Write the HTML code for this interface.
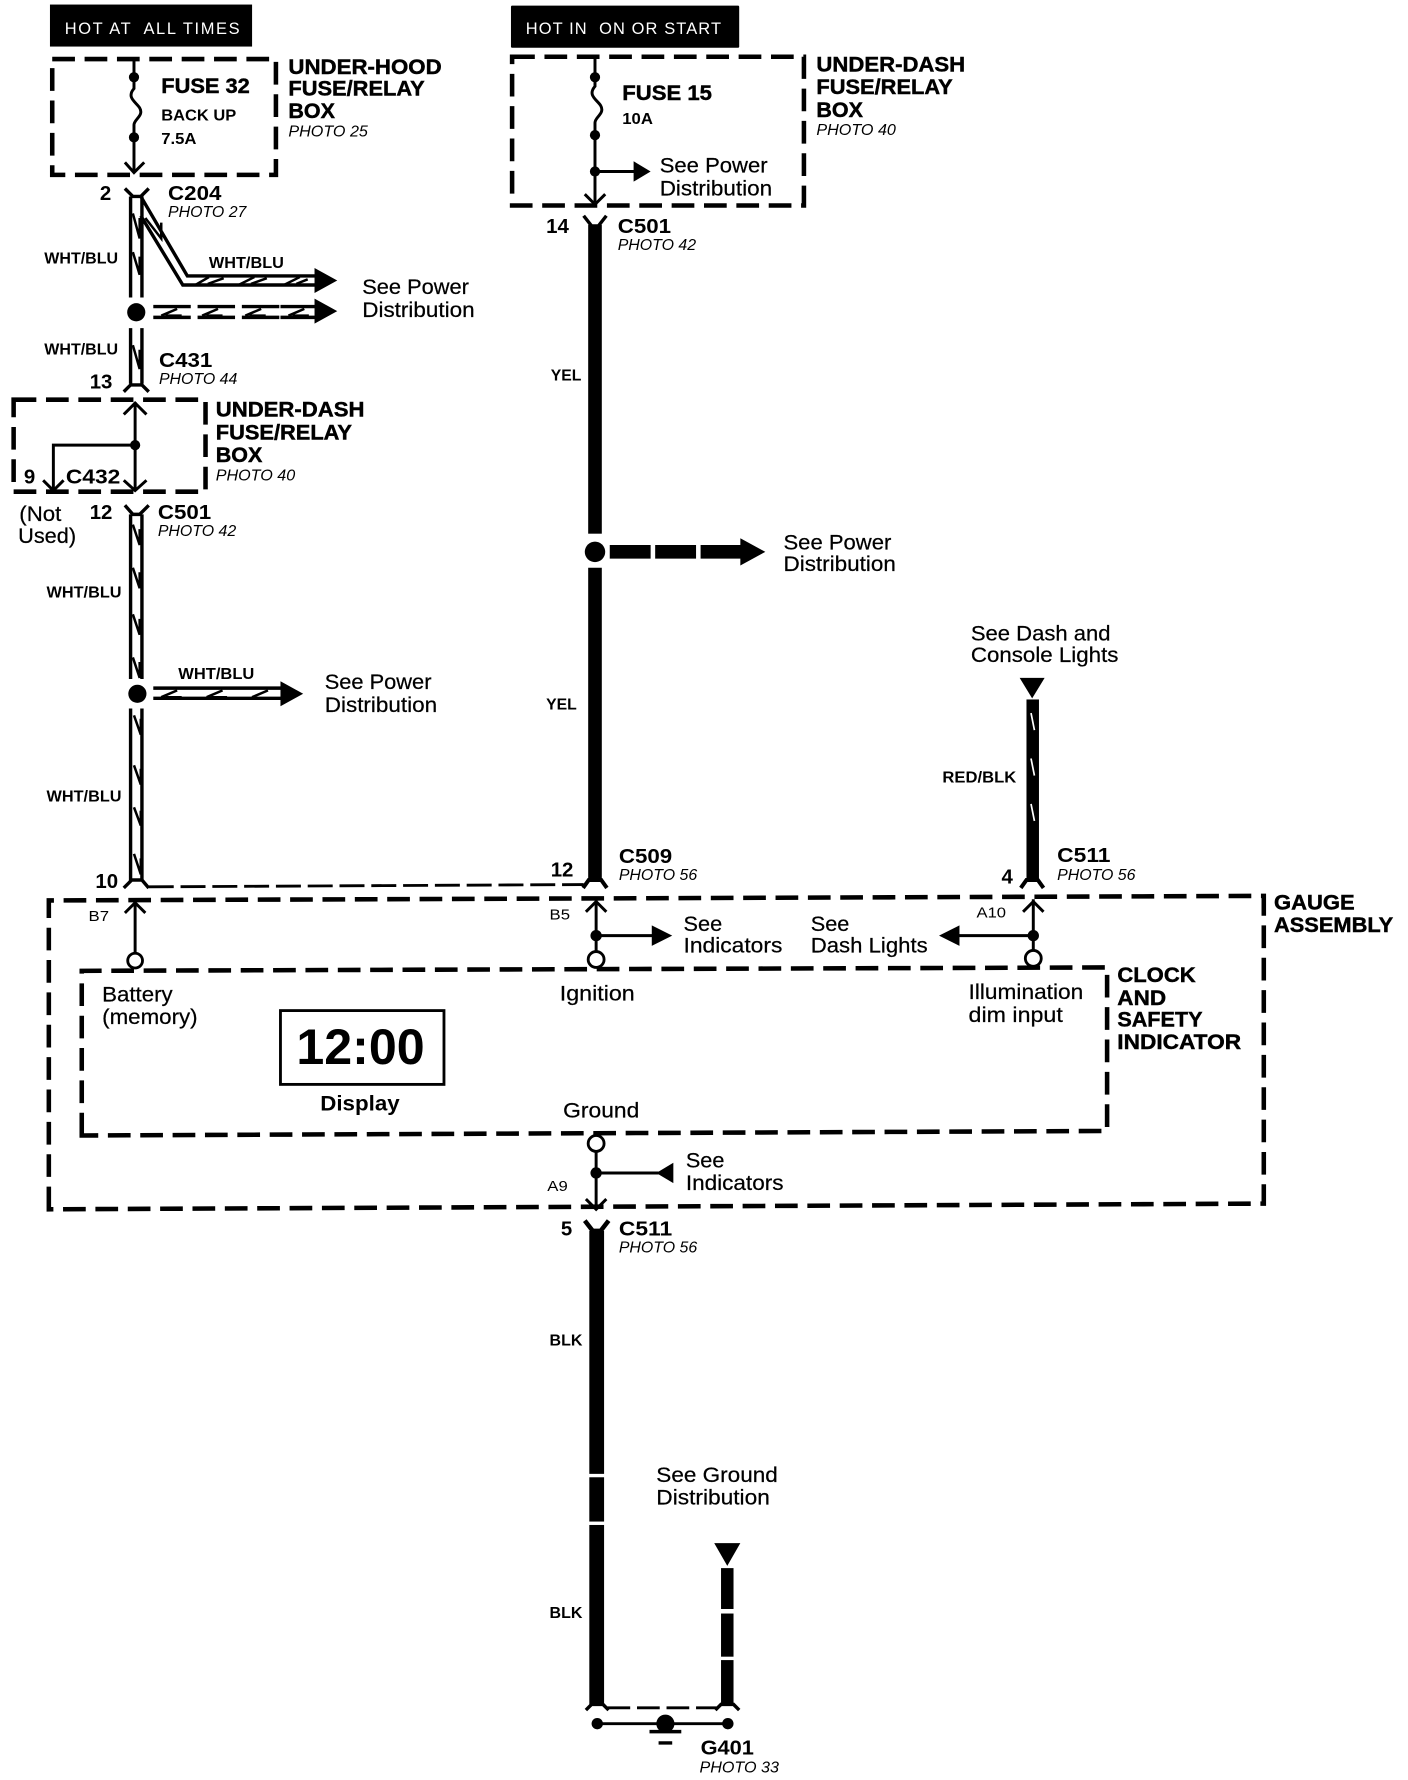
<!DOCTYPE html>
<html><head><meta charset="utf-8"><style>
html,body{margin:0;padding:0;background:#fff}
svg{display:block}
text{font-family:"Liberation Sans",Arial,sans-serif;fill:#000}
.b{font-weight:bold}
.h{font-weight:bold;font-size:19px;stroke:#000;stroke-width:.4}
.w{font-weight:bold;font-size:13.5px}
.n{font-size:19px;stroke:#000;stroke-width:.2}
.p{font-style:italic;font-size:14px}
.c{font-weight:bold;font-size:18px}
.d{fill:none;stroke:#000;stroke-width:4;stroke-dasharray:20 8.5}
.l{fill:none;stroke:#000;stroke-width:2.6}
.t{fill:none;stroke:#000;stroke-width:3}
.z{fill:none;stroke:#000;stroke-width:2.2}
</style></head><body>
<svg xmlns="http://www.w3.org/2000/svg" width="1408" height="1780" viewBox="0 0 1240 1567.6">
<rect width="1240" height="1568" fill="#fff"/>
<!-- headers -->
<rect x="44" y="4" width="178" height="37" fill="#000"/>
<text x="57" y="30" style="fill:#fff;font-size:14.5px;white-space:pre" textLength="154" lengthAdjust="spacing">HOT AT  ALL TIMES</text>
<rect x="450" y="5" width="201" height="37" rx="1" fill="#000"/>
<text x="463" y="30" style="fill:#fff;font-size:14.5px;white-space:pre" textLength="172" lengthAdjust="spacing">HOT IN  ON OR START</text>

<!-- box 1 -->
<rect class="d" x="46" y="52" width="197" height="102"/>
<path class="l" d="M118 52V78c-7 8 2 12 5 17 4 7-5 10-5 15V150M110 143l8 9 9-9"/>
<circle cx="118" cy="68" r="4.500"/><circle cx="118" cy="121" r="4.500"/>
<text class="h" style="font-size:19px" x="142" y="82" textLength="78" lengthAdjust="spacingAndGlyphs">FUSE 32</text>
<text class="b" style="font-size:14px" x="142" y="106" textLength="66" lengthAdjust="spacingAndGlyphs">BACK UP</text>
<text class="b" style="font-size:14px" x="142" y="127" textLength="31" lengthAdjust="spacingAndGlyphs">7.5A</text>
<text class="h" x="254" y="65" textLength="135" lengthAdjust="spacingAndGlyphs">UNDER-HOOD</text>
<text class="h" x="254" y="84" textLength="120" lengthAdjust="spacingAndGlyphs">FUSE/RELAY</text>
<text class="h" x="254" y="104" textLength="41" lengthAdjust="spacingAndGlyphs">BOX</text>
<text class="p" x="254" y="120" textLength="70" lengthAdjust="spacingAndGlyphs">PHOTO 25</text>

<!-- C204 -->
<text class="c" x="88" y="176">2</text>
<text class="c" x="148" y="176" textLength="47" lengthAdjust="spacingAndGlyphs">C204</text>
<text class="p" x="148" y="191" textLength="69" lengthAdjust="spacingAndGlyphs">PHOTO 27</text>
<path class="t" d="M110 166l7 7h7l7-7"/>
<path class="t" d="M115 173V262M125 173V262M124 173L165 243H280M124 190L161 251H280"/>
<path class="z" d="M117 188l6 22v-18M117 222l6 20v-16M128 192l14 18v-14M172 251l12-7M183 250l14-5M210 251l14-7M221 250l14-5M250 251l14-7M261 250l10-4"/>
<path d="M277 236l20 11-20 11z"/>
<text class="w" x="39" y="232" textLength="65" lengthAdjust="spacingAndGlyphs">WHT/BLU</text>
<text class="w" x="184" y="236" textLength="66" lengthAdjust="spacingAndGlyphs">WHT/BLU</text>
<text class="n" x="319" y="259" textLength="94" lengthAdjust="spacingAndGlyphs">See Power</text>
<text class="n" x="319" y="279" textLength="99" lengthAdjust="spacingAndGlyphs">Distribution</text>
<circle cx="120" cy="275" r="8"/>
<path d="M135 270H247M135 279.500H247" fill="none" stroke="#000" stroke-width="3" stroke-dasharray="33 6"/>
<path d="M247 270h32M247 279.500h32" class="t"/>
<path class="z" d="M142 278l14-6M146 278h14M178 278l14-6M182 278h14M216 278l14-6M220 278h14M254 278l14-6M258 278h14"/>
<path d="M277 263l20 11-20 11z"/>

<path class="t" d="M115 289V338M125 289V338"/>
<path class="z" d="M117 304l6 21v-17"/>
<text class="w" x="39" y="312" textLength="65" lengthAdjust="spacingAndGlyphs">WHT/BLU</text>
<text class="c" x="140" y="323" textLength="47" lengthAdjust="spacingAndGlyphs">C431</text>
<text class="p" x="140" y="338" textLength="69" lengthAdjust="spacingAndGlyphs">PHOTO 44</text>
<text class="c" x="79" y="342">13</text>
<path class="t" d="M109 345l6-6h10l6 6"/>

<!-- box 2 -->
<rect class="d" x="12" y="352" width="169" height="81"/>
<path class="l" d="M119 354V431M109 365l10-10 10 10M119 392H47V431M38 423l9 9 9-9M109 423l10 9 10-9"/>
<circle cx="119" cy="392" r="4.500"/>
<text class="c" x="21" y="426">9</text>
<text class="c" x="58" y="426" textLength="48" lengthAdjust="spacingAndGlyphs">C432</text>
<text class="h" x="190" y="367" textLength="131" lengthAdjust="spacingAndGlyphs">UNDER-DASH</text>
<text class="h" x="190" y="387" textLength="120" lengthAdjust="spacingAndGlyphs">FUSE/RELAY</text>
<text class="h" x="190" y="407" textLength="41" lengthAdjust="spacingAndGlyphs">BOX</text>
<text class="p" x="190" y="423" textLength="70" lengthAdjust="spacingAndGlyphs">PHOTO 40</text>
<text class="n" x="17" y="459" textLength="37" lengthAdjust="spacingAndGlyphs">(Not</text>
<text class="n" x="16" y="478" textLength="51" lengthAdjust="spacingAndGlyphs">Used)</text>
<text class="c" x="79" y="457">12</text>
<text class="c" x="139" y="457" textLength="47" lengthAdjust="spacingAndGlyphs">C501</text>
<text class="p" x="139" y="472" textLength="69" lengthAdjust="spacingAndGlyphs">PHOTO 42</text>
<path class="t" d="M110 445l7 8h6l8-8"/>

<!-- wire to C509-level -->
<path class="t" d="M115 453V598M125 453V598M115 624V776M125 624V776"/>
<path class="z" d="M117 462l6 18v-14M117 500l6 18v-14M117 541l6 18v-14M117 579l6 18v-14M118 630l6 17v-14M118 674l6 17v-14M118 711l6 16v-13M118 752l6 18v-14"/>
<text class="w" x="41" y="526" textLength="66" lengthAdjust="spacingAndGlyphs">WHT/BLU</text>
<text class="w" x="41" y="706" textLength="66" lengthAdjust="spacingAndGlyphs">WHT/BLU</text>
<circle cx="121" cy="611" r="8"/>
<path class="t" d="M135 606H250M135 615H250"/>
<path class="z" d="M142 614l14-6M146 614h14M182 614l14-6M186 614h14M222 614l14-6"/>
<path d="M247 600l20 11-20 11z"/>
<text class="w" x="157" y="598" textLength="67" lengthAdjust="spacingAndGlyphs">WHT/BLU</text>
<text class="n" x="286" y="607" textLength="94" lengthAdjust="spacingAndGlyphs">See Power</text>
<text class="n" x="286" y="627" textLength="99" lengthAdjust="spacingAndGlyphs">Distribution</text>
<text class="c" x="84" y="782">10</text>
<path class="t" d="M109 782l7-7h9l6 7"/>
<path d="M131 781L514 779" fill="none" stroke="#000" stroke-width="2.500" stroke-dasharray="22 6"/>

<!-- center wire, box 3 -->
<path d="M451 50H708V181H451Z" class="d"/>
<path class="l" d="M524 50V76c-7 8 2 12 5 17 4 7-5 10-5 15V178M515 171l9 9 9-9M524 151H560"/>
<circle cx="524" cy="68" r="4.500"/><circle cx="524" cy="119" r="4.500"/><circle cx="524" cy="151" r="4.500"/>
<path d="M558 142l15 9-15 9z"/>
<text class="h" x="548" y="88" textLength="79" lengthAdjust="spacingAndGlyphs">FUSE 15</text>
<text class="b" style="font-size:14px" x="548" y="109" textLength="27" lengthAdjust="spacingAndGlyphs">10A</text>
<text class="n" x="581" y="152" textLength="95" lengthAdjust="spacingAndGlyphs">See Power</text>
<text class="n" x="581" y="172" textLength="99" lengthAdjust="spacingAndGlyphs">Distribution</text>
<text class="h" x="719" y="63" textLength="131" lengthAdjust="spacingAndGlyphs">UNDER-DASH</text>
<text class="h" x="719" y="83" textLength="120" lengthAdjust="spacingAndGlyphs">FUSE/RELAY</text>
<text class="h" x="719" y="103" textLength="41" lengthAdjust="spacingAndGlyphs">BOX</text>
<text class="p" x="719" y="119" textLength="70" lengthAdjust="spacingAndGlyphs">PHOTO 40</text>
<text class="c" x="481" y="205">14</text>
<text class="c" x="544" y="205" textLength="47" lengthAdjust="spacingAndGlyphs">C501</text>
<text class="p" x="544" y="220" textLength="69" lengthAdjust="spacingAndGlyphs">PHOTO 42</text>
<path class="t" d="M514 190l7 9h6l7-9" stroke-width="4"/>
<rect x="518" y="198" width="12" height="272"/>
<rect x="518" y="500" width="12" height="274"/>
<text class="w" x="485" y="335" textLength="27" lengthAdjust="spacingAndGlyphs">YEL</text>
<text class="w" x="481" y="625" textLength="27" lengthAdjust="spacingAndGlyphs">YEL</text>
<circle cx="524" cy="486" r="9"/>
<path d="M537 486H655" fill="none" stroke="#000" stroke-width="12" stroke-dasharray="36 4"/>
<path d="M652 474l22 12-22 12z"/>
<text class="n" x="690" y="484" textLength="95" lengthAdjust="spacingAndGlyphs">See Power</text>
<text class="n" x="690" y="503" textLength="99" lengthAdjust="spacingAndGlyphs">Distribution</text>
<text class="c" x="485" y="772">12</text>
<text class="c" x="545" y="760" textLength="47" lengthAdjust="spacingAndGlyphs">C509</text>
<text class="p" x="545" y="775" textLength="69" lengthAdjust="spacingAndGlyphs">PHOTO 56</text>
<path d="M513.500 782l5-7h11l5 7" fill="none" stroke="#000" stroke-width="3.500"/>

<!-- right wire -->
<text class="n" x="855" y="564" textLength="123" lengthAdjust="spacingAndGlyphs">See Dash and</text>
<text class="n" x="855" y="583" textLength="130" lengthAdjust="spacingAndGlyphs">Console Lights</text>
<path d="M898 597h22l-11 18z"/>
<rect x="904" y="616" width="11" height="158"/>
<path d="M908 628l3 15M908 668l3 15M908 708l3 15" stroke="#fff" stroke-width="1.500" fill="none"/>
<text class="w" x="830" y="689" textLength="65" lengthAdjust="spacingAndGlyphs">RED/BLK</text>
<text class="c" x="931" y="759" textLength="47" lengthAdjust="spacingAndGlyphs">C511</text>
<text class="p" x="931" y="775" textLength="69" lengthAdjust="spacingAndGlyphs">PHOTO 56</text>
<text class="c" x="882" y="778">4</text>
<path d="M899 782l5-7h10l5 7" fill="none" stroke="#000" stroke-width="3.500"/>

<!-- gauge box -->
<path class="d" d="M43 1065V793L1113 789V1060Z"/>
<path class="d" d="M72 1000V855L975 852V996Z"/>
<text class="h" x="1122" y="801" textLength="71" lengthAdjust="spacingAndGlyphs">GAUGE</text>
<text class="h" x="1122" y="821" textLength="105" lengthAdjust="spacingAndGlyphs">ASSEMBLY</text>
<text class="h" x="984" y="865" textLength="69" lengthAdjust="spacingAndGlyphs">CLOCK</text>
<text class="h" x="984" y="885" textLength="43" lengthAdjust="spacingAndGlyphs">AND</text>
<text class="h" x="984" y="904" textLength="75" lengthAdjust="spacingAndGlyphs">SAFETY</text>
<text class="h" x="984" y="924" textLength="109" lengthAdjust="spacingAndGlyphs">INDICATOR</text>

<text style="font-size:13px" x="78" y="811" textLength="18" lengthAdjust="spacingAndGlyphs">B7</text>
<path class="l" d="M119 794V840M110 804l9-9 9 9"/>
<circle cx="119" cy="846" r="6.500" fill="#fff" stroke="#000" stroke-width="2.500"/>

<text style="font-size:13px" x="484" y="810" textLength="18" lengthAdjust="spacingAndGlyphs">B5</text>
<path class="l" d="M525 792V838M516 803l9-9 9 9M525 824H576"/>
<circle cx="525" cy="824" r="5"/>
<circle cx="525" cy="845" r="7" fill="#fff" stroke="#000" stroke-width="2.500"/>
<path d="M574 815l18 9-18 9z"/>
<text class="n" x="602" y="820" textLength="34" lengthAdjust="spacingAndGlyphs">See</text>
<text class="n" x="602" y="839" textLength="87" lengthAdjust="spacingAndGlyphs">Indicators</text>
<text class="n" x="714" y="820" textLength="34" lengthAdjust="spacingAndGlyphs">See</text>
<text class="n" x="714" y="839" textLength="103" lengthAdjust="spacingAndGlyphs">Dash Lights</text>
<path d="M827 824l18-9v18z"/>
<path class="l" d="M910 792V838M901 803l9-9 9 9M843 824H910"/>
<circle cx="910" cy="824" r="5"/>
<circle cx="910" cy="844" r="7" fill="#fff" stroke="#000" stroke-width="2.500"/>
<text style="font-size:13px" x="860" y="808" textLength="26" lengthAdjust="spacingAndGlyphs">A10</text>

<text class="n" x="90" y="882" textLength="62" lengthAdjust="spacingAndGlyphs">Battery</text>
<text class="n" x="90" y="902" textLength="84" lengthAdjust="spacingAndGlyphs">(memory)</text>
<text class="n" x="493" y="881" textLength="66" lengthAdjust="spacingAndGlyphs">Ignition</text>
<text class="n" x="853" y="880" textLength="101" lengthAdjust="spacingAndGlyphs">Illumination</text>
<text class="n" x="853" y="900" textLength="83" lengthAdjust="spacingAndGlyphs">dim input</text>
<rect x="247" y="890" width="144" height="65" fill="none" stroke="#000" stroke-width="2.500"/>
<text class="b" style="font-size:44px" x="261" y="937" textLength="113" lengthAdjust="spacingAndGlyphs">12:00</text>
<text class="b" style="font-size:19px" x="282" y="978" textLength="70" lengthAdjust="spacingAndGlyphs">Display</text>
<text class="n" x="496" y="984" textLength="67" lengthAdjust="spacingAndGlyphs">Ground</text>

<!-- lower -->
<circle cx="525" cy="1007" r="7" fill="#fff" stroke="#000" stroke-width="2.500"/>
<path class="l" d="M525 1014V1065M516 1056l9 9 9-9M525 1033H580"/>
<circle cx="525" cy="1033" r="5"/>
<path d="M578 1033l15-9v18z"/>
<text class="n" x="604" y="1028" textLength="34" lengthAdjust="spacingAndGlyphs">See</text>
<text class="n" x="604" y="1048" textLength="86" lengthAdjust="spacingAndGlyphs">Indicators</text>
<text style="font-size:13px" x="482" y="1049" textLength="18" lengthAdjust="spacingAndGlyphs">A9</text>
<text class="c" x="494" y="1088">5</text>
<text class="c" x="545" y="1088" textLength="47" lengthAdjust="spacingAndGlyphs">C511</text>
<text class="p" x="545" y="1103" textLength="69" lengthAdjust="spacingAndGlyphs">PHOTO 56</text>
<path d="M515 1075l7 9h7l7-9" fill="none" stroke="#000" stroke-width="4"/>
<rect x="519" y="1084" width="13" height="214"/>
<rect x="519" y="1301" width="13" height="39"/>
<rect x="519" y="1343" width="13" height="158"/>
<text class="w" x="484" y="1185" textLength="29" lengthAdjust="spacingAndGlyphs">BLK</text>
<text class="w" x="484" y="1425" textLength="29" lengthAdjust="spacingAndGlyphs">BLK</text>
<text class="n" x="578" y="1305" textLength="107" lengthAdjust="spacingAndGlyphs">See Ground</text>
<text class="n" x="578" y="1325" textLength="100" lengthAdjust="spacingAndGlyphs">Distribution</text>
<path d="M629 1359h23l-11.500 20z"/>
<rect x="635" y="1381" width="11" height="36"/>
<rect x="635" y="1421" width="11" height="38"/>
<rect x="635" y="1462" width="11" height="39"/>
<path class="t" d="M516 1506l5-5h10l5 5M630 1506l5-5h11l5 5"/>
<path d="M535 1504H631" fill="none" stroke="#000" stroke-width="2.500" stroke-dasharray="20 6"/>
<path class="l" d="M526 1518H641"/>
<circle cx="526" cy="1518" r="5"/><circle cx="641" cy="1518" r="5"/><circle cx="586" cy="1518" r="8"/>
<path class="t" d="M572 1525H600M580 1535H592"/>
<text class="c" x="617" y="1545" textLength="47" lengthAdjust="spacingAndGlyphs">G401</text>
<text class="p" x="616" y="1561" textLength="70" lengthAdjust="spacingAndGlyphs">PHOTO 33</text>
</svg>
</body></html>
